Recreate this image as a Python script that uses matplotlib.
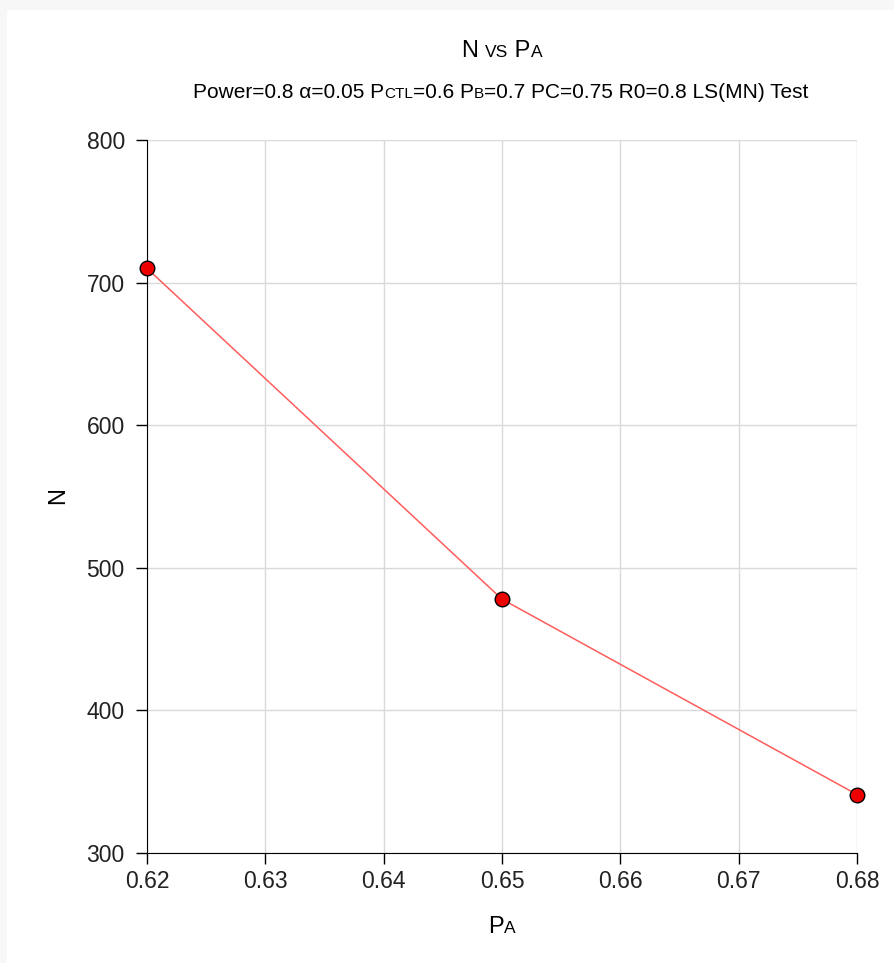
import matplotlib
matplotlib.use("Agg")
import matplotlib.pyplot as plt
from matplotlib.patches import Rectangle

# values
pa = [0.62, 0.65, 0.68]
n = [710, 478, 341]
xticks = [0.62, 0.63, 0.64, 0.65, 0.66, 0.67, 0.68]
yticks = [300, 400, 500, 600, 700, 800]

plt.rcParams['font.family'] = ['Liberation Sans', 'DejaVu Sans']

W, H = 895, 963
fig = plt.figure(figsize=(W / 100, H / 100), dpi=100)
fig.patch.set_facecolor('#f7f7f7')
fig.patches.append(Rectangle((7 / W, 0), 1, 1 - 10 / H, transform=fig.transFigure,
                             facecolor='white', edgecolor='none', zorder=0))

ax = fig.add_axes([147 / W, 1 - 853 / H, 710 / W, 713 / H])
ax.set_zorder(2)
ax.set_facecolor('white')
ax.plot(pa, n, color='#ff5c5c', lw=1.1, zorder=3)
ax.plot(pa, n, ls='none', marker='o', ms=10.5, mfc='#ee0000', mec='black', mew=1.0,
        zorder=4, clip_on=False)

ax.set_xlim(0.62, 0.68)
ax.set_ylim(300, 800)
ax.set_xticks(xticks)
ax.set_yticks(yticks)
ax.set_xticklabels(['%.2f' % v for v in xticks])
ax.grid(True, color='#d9d9d9', lw=1)
ax.set_axisbelow(True)
for s in ['top', 'right']:
    ax.spines[s].set_visible(False)
for s in ['left', 'bottom']:
    ax.spines[s].set_color('black')
ax.tick_params(axis='x', labelsize=16.5, length=8, width=1, pad=4, labelcolor='#222222')
ax.tick_params(axis='y', labelsize=16.5, length=8, width=1, pad=8, labelcolor='#222222')


def rich(pieces, xc, yb):
    # pieces: (text, size); drawn side by side, centred at xc (px), baseline yb (px from top)
    r = fig.canvas.get_renderer()
    objs = []
    for t, s in pieces:
        objs.append(fig.text(0, 0, t, fontsize=s, va='baseline', ha='left', zorder=5))
    widths = [o.get_window_extent(r).width for o in objs]
    x = xc - sum(widths) / 2
    for o, w in zip(objs, widths):
        o.set_position((x / W, 1 - yb / H))
        x += w


big, small = 17, 12.5
rich([('N ', big), ('VS', small), (' P', big), ('A', small)], 502, 57)

st, ss = 15, 11
rich([('Power=0.8 α=0.05 P', st), ('CTL', ss), ('=0.6 P', st), ('B', ss),
      ('=0.7 PC=0.75 R0=0.8 LS(MN) Test', st)], 501, 98)

rich([('P', big), ('A', small)], 502, 933)
fig.text(58 / W, 1 - 496 / H, 'N', fontsize=big, rotation=90, va='center', ha='center')

fig.savefig('out.png', dpi=100, facecolor=fig.get_facecolor())
